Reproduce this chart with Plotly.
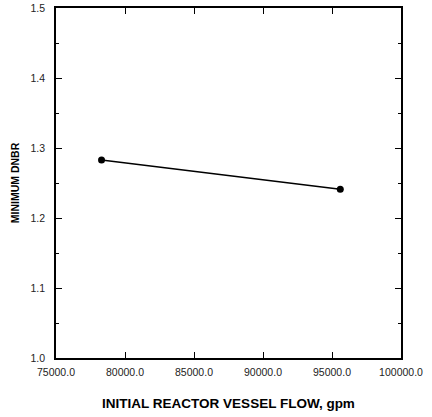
import plotly.graph_objects as go

flow = [78300, 95600]
dnbr = [1.283, 1.241]

x_ticks = [75000, 80000, 85000, 90000, 95000, 100000]
y_ticks = [1.0, 1.1, 1.2, 1.3, 1.4, 1.5]

fig = go.Figure()
fig.add_trace(go.Scatter(
    x=flow, y=dnbr, mode="lines+markers",
    line=dict(color="black", width=1.5),
    marker=dict(color="black", size=7),
    showlegend=False,
    cliponaxis=False,
))

font = dict(family="Liberation Sans, Arial, sans-serif", color="#222")
fig.update_layout(
    width=432, height=417,
    margin=dict(l=56, r=31, t=8, b=59),
    paper_bgcolor="white", plot_bgcolor="white",
    font=font,
)
fig.update_xaxes(
    range=[75000, 100000], tickvals=x_ticks, tickformat=".1f",
    ticks="inside", ticklen=6, tickcolor="black", tickwidth=1,
    showline=True, linecolor="black", linewidth=1.5, mirror="ticks",
    showgrid=False, zeroline=False, automargin=False,
    ticklabelstandoff=4,
    tickfont=dict(size=10.5, color="#222"),
    title=dict(text="<b>INITIAL REACTOR VESSEL FLOW, gpm</b>", font=dict(size=13.5, color="black"), standoff=21),
)
fig.update_yaxes(
    range=[1.0, 1.5], tickvals=y_ticks, tickformat=".1f",
    ticks="inside", ticklen=6, tickcolor="black", tickwidth=1,
    minor=dict(dtick=0.05, ticks="inside", ticklen=3, tickcolor="black"),
    showline=True, linecolor="black", linewidth=1.5, mirror="ticks",
    showgrid=False, zeroline=False, automargin=False,
    ticklabelstandoff=7,
    tickfont=dict(size=10.5, color="#222"),
    title=dict(text="<b>MINIMUM DNBR</b>", font=dict(size=10.5, color="black"), standoff=9),
)
fig.write_html("out.html", config={"displayModeBar": False},
               post_script="document.body.style.margin='0px';")
